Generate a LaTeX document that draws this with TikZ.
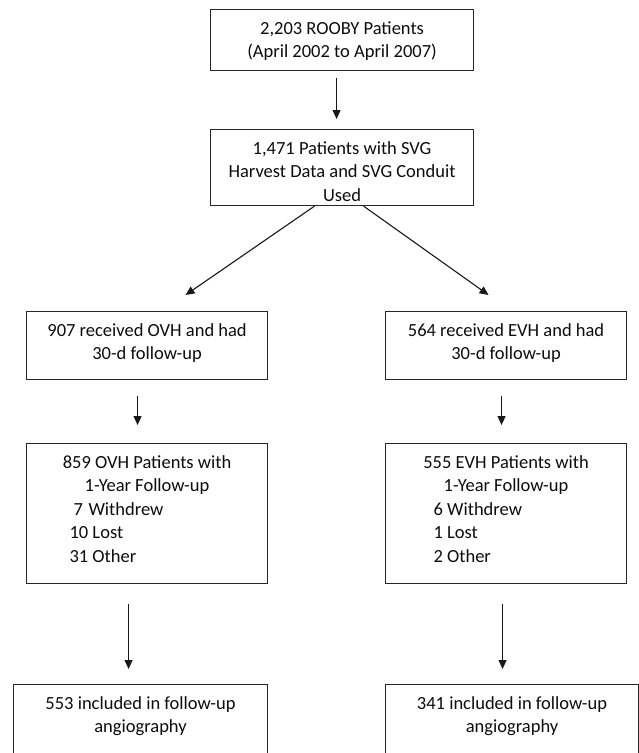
\documentclass[tikz,border=0pt]{standalone}
\usepackage{fontspec}
\setmainfont{Carlito}
\usetikzlibrary{arrows.meta}
\newcommand{\bxtext}[3]{\parbox[c][#2][t]{#1}{\fontsize{18.5}{23.4}\selectfont\centering\rule{0pt}{25pt}#3}}
\begin{document}
\begin{tikzpicture}[x=1pt,y=-1pt,
  flowbox/.style={draw=black!85, line width=1.1pt, inner sep=0pt, anchor=north west, text=black!95,
    font=\fontsize{18.5}{23.4}\selectfont},
  arr/.style={draw=black!90, line width=1.1pt, -{Triangle[length=9pt,width=8pt]}}]
\useasboundingbox (0,0) rectangle (639,753);
\clip (0,0) rectangle (639,753);
\fill[white] (0,0) rectangle (639,753);

\node[flowbox] (b1) at (210,9) {\bxtext{263pt}{61pt}{2,203 ROOBY Patients\\(April 2002 to April 2007)}};
\node[flowbox] (b2) at (210,129) {\bxtext{263pt}{76pt}{1,471 Patients with SVG\\Harvest Data and SVG Conduit\\Used}};
\node[flowbox] (b3l) at (26,311) {\bxtext{241pt}{68pt}{907 received OVH and had\\30-d follow-up}};
\node[flowbox] (b3r) at (385,311) {\bxtext{241pt}{68pt}{564 received EVH and had\\30-d follow-up}};
\node[flowbox] (b4l) at (26,443) {\bxtext{241pt}{140pt}{859 OVH Patients with\\1-Year Follow-up\par
  \raggedright\hspace*{47pt}\makebox[15pt][l]{7}Withdrew\\
  \hspace*{43pt}10 Lost\\
  \hspace*{43pt}31 Other}};
\node[flowbox] (b4r) at (385,443) {\bxtext{241pt}{140pt}{555 EVH Patients with\\1-Year Follow-up\par
  \raggedright\hspace*{48pt}6 Withdrew\\
  \hspace*{48pt}1 Lost\\
  \hspace*{48pt}2 Other}};
\node[flowbox] (b5l) at (13,684) {\bxtext{254pt}{100pt}{553 included in follow-up\\angiography}};
\node[flowbox] (b5r) at (385,684) {\bxtext{253pt}{100pt}{341 included in follow-up\\angiography}};

\draw[arr] ([xshift=-5.5pt,yshift=-7pt]b1.south) -- ([xshift=-5.5pt,yshift=10pt]b2.north);
\draw[arr] ([xshift=-27.5pt]b2.south) -- ([xshift=38.5pt,yshift=16pt]b3l.north);
\draw[arr] ([xshift=21.5pt]b2.south) -- ([xshift=-17.5pt,yshift=16pt]b3r.north);
\draw[arr] ([xshift=-9.5pt,yshift=-16pt]b3l.south) -- ([xshift=-9.5pt,yshift=18pt]b4l.north);
\draw[arr] ([xshift=-4.5pt,yshift=-16pt]b3r.south) -- ([xshift=-4.5pt,yshift=18pt]b4r.north);
\draw[arr] ([xshift=-18.5pt,yshift=-20pt]b4l.south) -- ([xshift=-12pt,yshift=15pt]b5l.north);
\draw[arr] ([xshift=-3.5pt,yshift=-20pt]b4r.south) -- ([xshift=-9.5pt,yshift=15pt]b5r.north);
\end{tikzpicture}
\end{document}
